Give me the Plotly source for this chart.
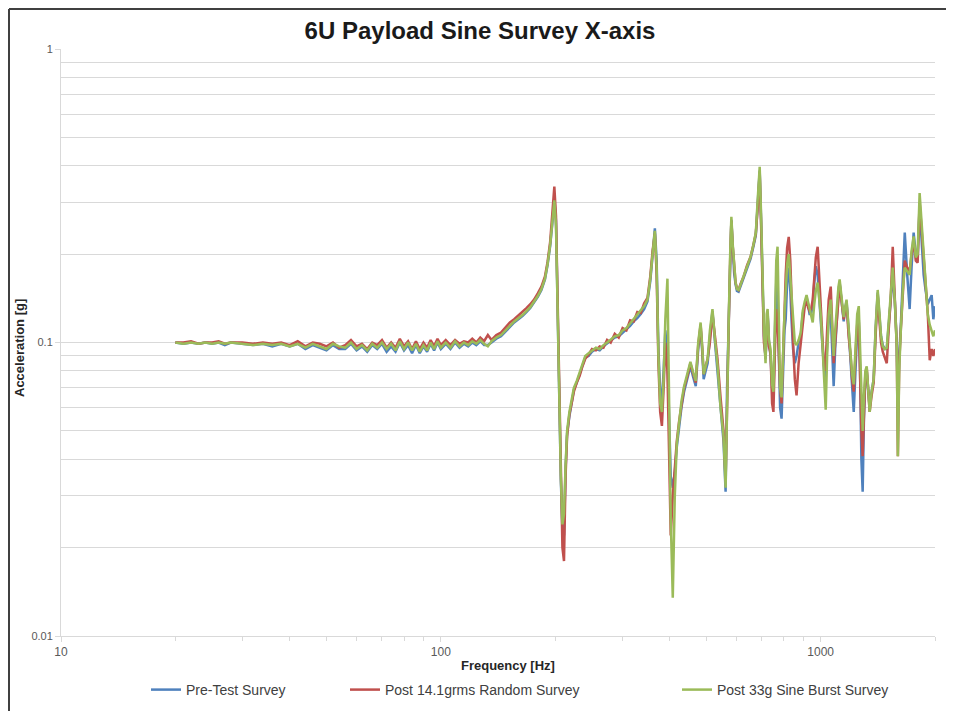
import math
import plotly.graph_objects as go

# ---------------- data ----------------
freq = [
    20, 21, 22, 23, 24, 25, 26, 27, 28, 30,
    32, 34, 36, 38, 40, 42, 44, 46, 48, 50,
    52, 54, 56, 58, 60, 62, 64, 66, 68, 70,
    72, 74, 76, 78, 80, 82, 84, 86, 88, 90,
    92, 94, 96, 98, 100, 103, 106, 109, 112, 115,
    118, 121, 124, 127, 130, 133, 136, 140, 144, 148,
    152, 156, 160, 164, 168, 172, 176, 180, 184, 188,
    191, 194, 197, 199, 201, 203, 205, 207, 209, 211,
    213, 215, 218, 221, 224, 228, 232, 236, 240, 245,
    250, 256, 262, 268, 274, 280, 287, 294, 301, 308,
    315, 322, 329, 336, 343, 350, 356, 361, 366, 370,
    374, 378, 382, 386, 390, 395, 399, 403, 408, 413,
    418, 424, 430, 437, 446, 454, 462, 469, 476, 483,
    488, 492, 498, 504, 511, 519, 527, 535, 545, 555,
    562, 567, 573, 578, 582, 587, 592, 597, 602, 608,
    615, 627, 640, 654, 665, 675, 683, 691, 697, 703,
    709, 716, 721, 725, 731, 738, 745, 751, 758, 764,
    770, 776, 782, 789, 796, 803, 809, 816, 824, 832,
    838, 846, 855, 864, 875, 886, 897, 908, 918, 926,
    935, 944, 953, 962, 971, 982, 991, 1000, 1010, 1019,
    1025, 1031, 1040, 1050, 1063, 1072, 1082, 1092, 1105, 1114,
    1122, 1135, 1150, 1160, 1170, 1185, 1199, 1210, 1222, 1235,
    1248, 1260, 1270, 1280, 1290, 1300, 1311, 1322, 1334, 1346,
    1362, 1379, 1395, 1413, 1427, 1442, 1457, 1475, 1493, 1510,
    1529, 1548, 1567, 1586, 1597, 1610, 1626, 1645, 1665, 1690,
    1715, 1735, 1757, 1780, 1800, 1822, 1845, 1867, 1890, 1914,
    1937, 1960, 1980, 2000,
]

pre_test = [
    .100, .099, .100, .099, .100, .099, .100, .098, .100, .099,
    .098, .099, .097, .099, .097, .099, .095, .098, .096, .094,
    .098, .095, .095, .099, .094, .097, .093, .098, .095, .099,
    .093, .097, .093, .100, .094, .098, .092, .098, .092, .097,
    .093, .099, .094, .100, .095, .099, .095, .100, .096, .099,
    .097, .100, .098, .101, .098, .098, .100, .103, .105, .109,
    .113, .117, .120, .123, .127, .131, .137, .143, .151, .164,
    .184, .213, .262, .310, .260, .120, .060, .034, .023, .022,
    .037, .049, .056, .063, .069, .073, .078, .084, .089, .090,
    .093, .095, .094, .097, .099, .101, .104, .105, .108, .111,
    .114, .118, .121, .125, .130, .138, .162, .198, .245, .190,
    .095, .068, .063, .080, .110, .090, .060, .035, .032, .036,
    .044, .052, .060, .068, .075, .083, .076, .071, .095, .112,
    .092, .075, .080, .085, .105, .128, .100, .080, .058, .046,
    .031, .070, .120, .200, .262, .210, .172, .158, .150, .149,
    .155, .165, .180, .193, .212, .232, .300, .385, .260, .155,
    .105, .088, .120, .127, .100, .090, .070, .065, .110, .160,
    .140, .080, .060, .055, .085, .110, .120, .160, .180, .150,
    .120, .095, .085, .090, .100, .105, .125, .135, .143, .135,
    .125, .125, .135, .160, .182, .170, .140, .120, .095, .080,
    .075, .080, .100, .120, .125, .090, .071, .095, .130, .150,
    .160, .140, .118, .130, .138, .110, .088, .070, .058, .080,
    .110, .120, .080, .040, .031, .055, .075, .080, .068, .060,
    .068, .075, .110, .148, .125, .105, .098, .095, .095, .115,
    .135, .170, .140, .100, .060, .090, .115, .170, .237, .170,
    .130, .180, .237, .200, .190, .290, .220, .170, .150, .135,
    .140, .145, .120, .133,
]

post_random = [
    .100, .100, .101, .099, .100, .100, .101, .099, .100, .100,
    .099, .100, .099, .100, .098, .101, .097, .100, .099, .097,
    .100, .096, .098, .102, .097, .099, .095, .100, .098, .102,
    .096, .100, .096, .103, .097, .101, .095, .101, .095, .100,
    .096, .102, .097, .103, .098, .102, .098, .102, .099, .101,
    .100, .103, .100, .104, .101, .106, .102, .106, .108, .112,
    .117, .120, .124, .127, .131, .135, .140, .147, .155, .168,
    .188, .220, .275, .340, .270, .130, .065, .032, .020, .018,
    .035, .048, .057, .062, .068, .073, .077, .083, .088, .091,
    .095, .094, .097, .096, .102, .100, .107, .104, .112, .110,
    .119, .118, .127, .126, .136, .142, .168, .205, .235, .170,
    .085, .058, .052, .070, .100, .080, .040, .022, .030, .038,
    .046, .054, .062, .070, .077, .085, .078, .073, .098, .115,
    .095, .078, .083, .088, .100, .125, .105, .088, .065, .050,
    .034, .068, .118, .195, .260, .212, .175, .160, .153, .151,
    .158, .168, .183, .196, .215, .235, .290, .380, .250, .150,
    .100, .090, .115, .125, .097, .092, .062, .058, .095, .130,
    .120, .090, .070, .062, .090, .120, .170, .210, .229, .190,
    .140, .100, .075, .066, .085, .100, .120, .133, .140, .132,
    .128, .130, .140, .170, .195, .212, .165, .126, .100, .085,
    .080, .085, .110, .140, .155, .110, .085, .100, .125, .145,
    .158, .138, .120, .128, .136, .105, .090, .075, .068, .090,
    .115, .118, .075, .050, .041, .060, .078, .082, .065, .058,
    .066, .073, .105, .145, .120, .100, .093, .088, .085, .110,
    .140, .212, .150, .097, .041, .085, .111, .150, .190, .180,
    .175, .200, .220, .190, .187, .300, .240, .187, .160, .126,
    .087, .095, .090, .095,
]

post_sine = [
    .100, .099, .100, .099, .100, .099, .100, .099, .100, .099,
    .098, .099, .098, .099, .097, .099, .096, .099, .097, .095,
    .099, .097, .096, .100, .095, .098, .094, .099, .096, .100,
    .095, .099, .094, .101, .095, .100, .094, .099, .093, .098,
    .094, .100, .095, .101, .096, .100, .096, .101, .097, .100,
    .098, .101, .099, .102, .099, .097, .101, .104, .106, .110,
    .114, .118, .121, .124, .128, .132, .138, .144, .152, .165,
    .185, .215, .265, .305, .250, .120, .060, .035, .024, .026,
    .038, .050, .058, .064, .070, .074, .079, .085, .090, .092,
    .094, .096, .095, .098, .100, .102, .105, .106, .110, .112,
    .116, .120, .124, .128, .133, .140, .165, .200, .240, .180,
    .090, .062, .058, .075, .120, .165, .060, .025, .0135, .030,
    .045, .055, .063, .071, .078, .086, .079, .074, .100, .117,
    .096, .078, .083, .088, .110, .130, .102, .084, .060, .048,
    .032, .070, .123, .205, .268, .215, .176, .160, .152, .151,
    .157, .168, .182, .196, .215, .237, .310, .397, .270, .160,
    .110, .085, .125, .130, .102, .095, .072, .068, .130, .190,
    .212, .120, .070, .065, .095, .125, .150, .185, .200, .165,
    .140, .115, .100, .098, .102, .108, .128, .138, .145, .138,
    .130, .122, .117, .135, .150, .160, .140, .125, .100, .078,
    .065, .059, .090, .125, .140, .110, .090, .110, .140, .155,
    .164, .142, .122, .132, .140, .112, .092, .078, .072, .100,
    .125, .133, .090, .060, .050, .065, .080, .083, .066, .058,
    .068, .075, .112, .151, .128, .105, .097, .095, .096, .118,
    .137, .180, .140, .097, .041, .080, .111, .150, .180, .175,
    .170, .205, .230, .195, .200, .323, .250, .190, .150, .125,
    .115, .110, .105, .110,
]

series_names = ["Pre-Test Survey", "Post 14.1grms Random Survey", "Post 33g Sine Burst Survey"]
series_colors = ["#4F81BD", "#C0504D", "#9BBB59"]

x_tick_vals = [10, 100, 1000]
x_tick_text = ["10", "100", "1000"]
y_tick_vals = [0.01, 0.1, 1]
y_tick_text = ["0.01", "0.1", "1"]

assert len(freq) == len(pre_test) == len(post_random) == len(post_sine)

# ---------------- figure ----------------
# The page body has an 8px default margin; size the figure so it ends at the window edge.
OFF = 8
W, H = 954 - OFF, 711 - OFF
# desired on-screen plot area: x 61..935, y 49..636
ML, MR, MT, MB = 61 - OFF, 954 - 935, 49 - OFF, 711 - 636
PW, PH = W - ML - MR, H - MT - MB


def px_x(p):  # on-screen x pixel -> paper coordinate
    return (p - OFF - ML) / PW


def px_y(p):  # on-screen y pixel -> paper coordinate
    return (H + OFF - MB - p) / PH


FONT = "Liberation Sans, Arial, sans-serif"

fig = go.Figure()
legends = ["legend", "legend2", "legend3"]
for name, vals, color, leg in zip(series_names, [pre_test, post_random, post_sine], series_colors, legends):
    fig.add_trace(go.Scatter(
        x=freq, y=vals, mode="lines", name=name,
        line=dict(color=color, width=2.5),
        legend=leg, showlegend=True,
    ))

x_minor = [m * d for d in (10, 100) for m in range(2, 10)] + [2000]
y_minor = [m * d for d in (0.01, 0.1) for m in range(2, 10)]

grid_c = "#d9d9d9"
leg_common = dict(orientation="h", yanchor="middle", xanchor="left",
                  y=px_y(690), bgcolor="rgba(0,0,0,0)",
                  font=dict(family=FONT, size=14, color="#404040"))

fig.update_layout(
    width=W, height=H,
    showlegend=True,
    margin=dict(l=ML, r=MR, t=MT, b=MB, autoexpand=False),
    paper_bgcolor="white", plot_bgcolor="white",
    font=dict(family=FONT, size=12, color="#595959"),
    title=dict(text="<b>6U Payload Sine Survey X-axis</b>", x=(480 - OFF) / W, xref="container",
               y=1 - (31 - OFF) / H, yref="container", yanchor="middle", xanchor="center",
               font=dict(family=FONT, size=24, color="#1a1a1a")),
    xaxis=dict(
        type="log", range=[1, math.log10(2000)],
        tickmode="array", tickvals=x_tick_vals, ticktext=x_tick_text,
        showgrid=False, zeroline=False,
        showline=True, linecolor=grid_c, linewidth=1,
        ticks="outside", ticklen=5, tickcolor=grid_c,
        tickfont=dict(size=12, color="#595959"),
        minor=dict(tickmode="array", tickvals=x_minor, ticks="outside", ticklen=4,
                   tickcolor=grid_c, showgrid=False),
    ),
    yaxis=dict(
        type="log", range=[-2, 0],
        tickmode="array", tickvals=y_tick_vals, ticktext=y_tick_text,
        showgrid=True, gridcolor=grid_c, gridwidth=1, zeroline=False,
        showline=True, linecolor=grid_c, linewidth=1,
        ticks="outside", ticklen=5, tickcolor=grid_c,
        tickfont=dict(size=11, color="#595959"),
        minor=dict(tickmode="array", tickvals=y_minor, showgrid=True,
                   gridcolor=grid_c, gridwidth=1, ticks=""),
    ),
    legend=dict(x=px_x(146), **leg_common),
    legend2=dict(x=px_x(345), **leg_common),
    legend3=dict(x=px_x(677), **leg_common),
    annotations=[
        dict(text="<b>Acceleration [g]</b>", textangle=-90, x=px_x(19), y=px_y(348),
             xref="paper", yref="paper", showarrow=False, xanchor="center", yanchor="middle",
             font=dict(family=FONT, size=13, color="#262626")),
        dict(text="<b>Frequency [Hz]</b>", x=px_x(508), y=px_y(665),
             xref="paper", yref="paper", showarrow=False, xanchor="center", yanchor="middle",
             font=dict(family=FONT, size=13, color="#262626")),
    ],
    shapes=[
        dict(type="line", xref="paper", yref="paper", x0=px_x(9), x1=px_x(9),
             y0=px_y(9), y1=px_y(720), line=dict(color="#404040", width=2)),
        dict(type="line", xref="paper", yref="paper", x0=px_x(9), x1=px_x(953),
             y0=px_y(9), y1=px_y(9), line=dict(color="#404040", width=2)),
    ],
)

fig.write_html("out.html")
